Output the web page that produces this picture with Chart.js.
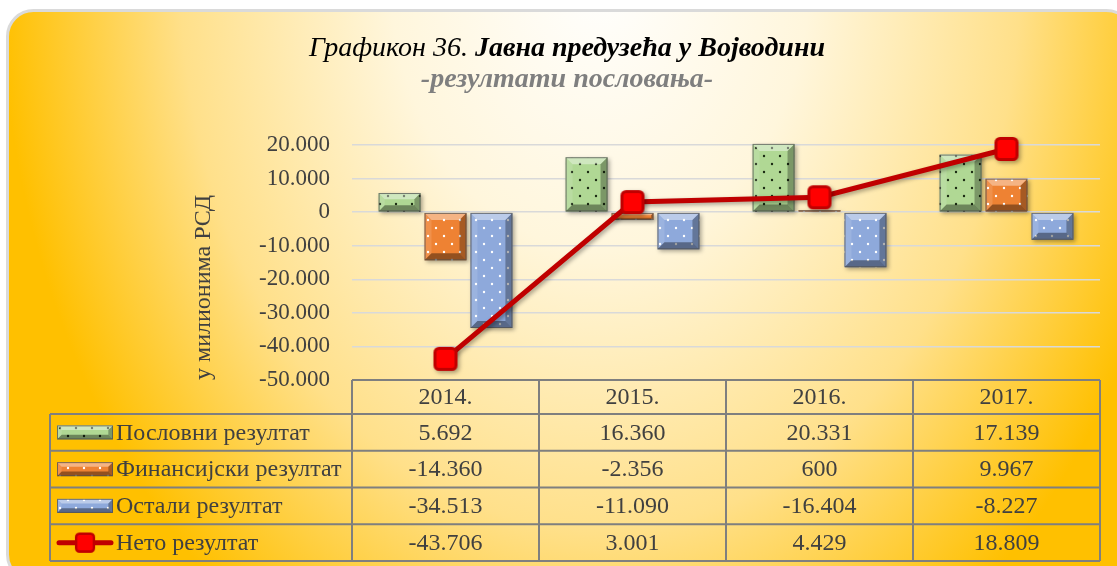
<!DOCTYPE html>
<html>
<head>
<meta charset="utf-8">
<script src="https://cdn.jsdelivr.net/npm/chart.js@4.4.1/dist/chart.umd.min.js"></script>
<style>
  html, body { margin: 0; padding: 0; background: #fff; }
</style>
</head>
<body>
<canvas id="chart" width="1117" height="566"></canvas>
<script>
const years = ['2014.', '2015.', '2016.', '2017.'];
const poslovni = [5692, 16360, 20331, 17139];
const finansijski = [-14360, -2356, 600, 9967];
const ostali = [-34513, -11090, -16404, -8227];
const neto = [-43706, 3001, 4429, 18809];
const seriesNames = ['Пословни резултат', 'Финансијски резултат', 'Остали резултат', 'Нето резултат'];

const titleLead = 'Графикон 36. ';
const titleBold = 'Јавна предузећа у Војводини';
const subTitle = '-резултати пословања-';
const yTitle = 'у милионима РСД';

const SERIF = '"Liberation Serif", "Times New Roman", serif';
const TEXT = '#404040';

// 5692 -> "5.692", -14360 -> "-14.360"
function fmt(v) {
  const s = String(Math.abs(Math.round(v))).replace(/\B(?=(\d{3})+(?!\d))/g, '.');
  return (v < 0 ? '-' : '') + s;
}

function dotPattern(base, dot) {
  const p = document.createElement('canvas');
  p.width = 16; p.height = 16;
  const g = p.getContext('2d');
  g.fillStyle = base;
  g.fillRect(0, 0, 16, 16);
  g.fillStyle = dot;
  [[4, 4], [12, 12]].forEach(([x, y]) => {
    g.beginPath(); g.arc(x, y, 1.2, 0, Math.PI * 2); g.fill();
  });
  return g.createPattern(p, 'repeat');
}

const ctx = document.getElementById('chart').getContext('2d');
const fills = [
  dotPattern('#B0D894', '#1b2a12'),
  dotPattern('#EE8233', '#ffffff'),
  dotPattern('#8EA9DB', '#ffffff')
];

// red rounded square marker
const marker = document.createElement('canvas');
marker.width = 26; marker.height = 26;
(function () {
  const g = marker.getContext('2d');
  g.beginPath();
  g.roundRect(2.5, 2.5, 21, 21, 4);
  g.fillStyle = '#FF0000';
  g.fill();
  g.lineWidth = 3;
  g.strokeStyle = '#C00000';
  g.stroke();
})();

// raised-tile look on top of a filled rectangle
function bevel(c, l, t, r, b) {
  const w = r - l, h = b - t;
  const s = Math.max(0, Math.min(7, w / 3, h / 3));
  const faces = [
    [[l, t], [r, t], [r - s, t + s], [l + s, t + s], 'rgba(255,255,255,0.40)'],
    [[l, t], [l + s, t + s], [l + s, b - s], [l, b], 'rgba(255,255,255,0.12)'],
    [[r, t], [r, b], [r - s, b - s], [r - s, t + s], 'rgba(0,0,0,0.30)'],
    [[l, b], [l + s, b - s], [r - s, b - s], [r, b], 'rgba(0,0,0,0.38)']
  ];
  c.save();
  faces.forEach(f => {
    c.beginPath();
    c.moveTo(f[0][0], f[0][1]);
    for (let i = 1; i < 4; i++) c.lineTo(f[i][0], f[i][1]);
    c.closePath();
    c.fillStyle = f[4];
    c.fill();
  });
  c.lineWidth = 1;
  c.strokeStyle = 'rgba(80,80,80,0.75)';
  c.strokeRect(l + 0.5, t + 0.5, w - 1, h - 1);
  c.restore();
}

const backdrop = {
  id: 'backdrop',
  beforeDraw(chart) {
    const c = chart.ctx;
    c.save();
    c.fillStyle = '#fff';
    c.fillRect(0, 0, chart.width, chart.height);
    c.beginPath();
    c.roundRect(7.5, 10.5, 1125, 570, 26);
    c.fillStyle = '#FFC000';
    c.fill();
    c.save();
    c.clip();
    c.translate(600, -30);
    c.scale(1, 800 / 600);
    const g = c.createRadialGradient(0, 0, 0, 0, 0, 600);
    g.addColorStop(0, '#FFFFFF');
    g.addColorStop(0.35, '#FFF6DC');
    g.addColorStop(0.7, '#FFE08A');
    g.addColorStop(1, 'rgba(255,192,0,1)');
    c.fillStyle = g;
    c.fillRect(-700, -50, 1500, 600);
    c.restore();
    c.lineWidth = 3;
    c.strokeStyle = '#DADADA';
    c.stroke();

    // title
    c.textBaseline = 'alphabetic';
    c.textAlign = 'left';
    c.font = 'italic 28px ' + SERIF;
    const w1 = c.measureText(titleLead).width;
    c.font = 'italic bold 28px ' + SERIF;
    const w2 = c.measureText(titleBold).width;
    const cx = 567;
    let x = cx - (w1 + w2) / 2;
    c.fillStyle = '#000';
    c.font = 'italic 28px ' + SERIF;
    c.fillText(titleLead, x, 56);
    c.font = 'italic bold 28px ' + SERIF;
    c.fillText(titleBold, x + w1, 56);
    c.textAlign = 'center';
    c.fillStyle = '#7F7F7F';
    c.fillText(subTitle, cx, 87);
    c.restore();
  }
};

const tileEffects = {
  id: 'tileEffects',
  beforeDatasetDraw(chart, args) {
    const c = chart.ctx;
    c.save();
    c.shadowColor = 'rgba(0,0,0,0.35)';
    c.shadowOffsetX = 2;
    c.shadowOffsetY = 2;
    c.shadowBlur = 4;
  },
  afterDatasetDraw(chart, args) {
    const c = chart.ctx;
    c.restore();
    if (args.meta.type !== 'bar') return;
    args.meta.data.forEach(el => {
      const p = el.getProps(['x', 'y', 'base', 'width'], true);
      const l = p.x - p.width / 2, r = p.x + p.width / 2;
      const t = Math.min(p.y, p.base), b = Math.max(p.y, p.base);
      bevel(c, l, t, r, b);
    });
  }
};

const dataTable = {
  id: 'dataTable',
  afterDraw(chart) {
    const c = chart.ctx;
    const area = chart.chartArea;
    const colW = (area.right - area.left) / years.length;
    const tableLeft = 50;
    const headTop = area.bottom;
    const headH = 34;
    const rowH = 36.75;
    const bodyTop = headTop + headH;
    const bodyBottom = bodyTop + rowH * 4;

    c.save();
    c.strokeStyle = '#7F7F7F';
    c.lineWidth = 2;
    c.beginPath();
    c.moveTo(area.left, headTop); c.lineTo(area.right, headTop);
    for (let r = 0; r <= 4; r++) {
      c.moveTo(tableLeft, bodyTop + r * rowH); c.lineTo(area.right, bodyTop + r * rowH);
    }
    c.moveTo(tableLeft, bodyTop); c.lineTo(tableLeft, bodyBottom);
    for (let i = 0; i <= years.length; i++) {
      const x = area.left + i * colW;
      c.moveTo(x, headTop); c.lineTo(x, bodyBottom);
    }
    c.stroke();

    c.fillStyle = TEXT;
    c.font = '24px ' + SERIF;
    c.textBaseline = 'middle';
    c.textAlign = 'center';
    years.forEach((y, i) => {
      c.fillText(y, chart.scales.x.getPixelForValue(i), headTop + headH / 2 + 1);
    });

    chart.data.datasets.forEach((ds, r) => {
      const cy = bodyTop + r * rowH + rowH / 2;
      // legend key
      if (ds.type === 'line') {
        c.save();
        c.strokeStyle = '#C00000';
        c.lineWidth = 5;
        c.lineCap = 'round';
        c.beginPath(); c.moveTo(59, cy); c.lineTo(111, cy); c.stroke();
        c.drawImage(marker, 85 - 11, cy - 11, 22, 22);
        c.restore();
      } else {
        c.fillStyle = ds.backgroundColor;
        c.fillRect(57, cy - 7, 56, 14);
        bevel(c, 57, cy - 7, 113, cy + 7);
      }
      c.fillStyle = TEXT;
      c.textAlign = 'left';
      c.fillText(ds.label, 116, cy + 1);
      c.textAlign = 'center';
      ds.data.forEach((v, i) => {
        c.fillText(fmt(v), chart.scales.x.getPixelForValue(i), cy + 1);
      });
    });
    c.restore();
  }
};

const barCommon = {
  type: 'bar',
  borderWidth: 0,
  categoryPercentage: 0.737,
  barPercentage: 0.913,
  order: 1,
  clip: false
};

new Chart(ctx, {
  type: 'bar',
  data: {
    labels: years,
    datasets: [
      Object.assign({ label: seriesNames[0], data: poslovni, backgroundColor: fills[0] }, barCommon),
      Object.assign({ label: seriesNames[1], data: finansijski, backgroundColor: fills[1] }, barCommon),
      Object.assign({ label: seriesNames[2], data: ostali, backgroundColor: fills[2] }, barCommon),
      {
        type: 'line',
        label: seriesNames[3],
        data: neto,
        borderColor: '#C00000',
        borderWidth: 5,
        pointStyle: marker,
        pointRadius: 12,
        pointHoverRadius: 12,
        tension: 0,
        order: 0,
        clip: false
      }
    ]
  },
  options: {
    responsive: false,
    animation: false,
    devicePixelRatio: 1,
    layout: { padding: { left: 189, right: 16, top: 145, bottom: 186 } },
    plugins: {
      legend: { display: false },
      tooltip: { enabled: false }
    },
    scales: {
      x: { display: false, offset: true },
      y: {
        min: -50000,
        max: 20000,
        afterFit(scale) { scale.width = 163; },
        border: { display: false },
        grid: { color: '#D9D9D9', lineWidth: 1.5, drawTicks: false },
        ticks: {
          stepSize: 10000,
          padding: 22,
          color: TEXT,
          font: { family: SERIF, size: 23 },
          callback: v => fmt(v)
        },
        title: {
          display: true,
          text: yTitle,
          align: 'start',
          color: TEXT,
          padding: { top: 0, bottom: 0 },
          font: { family: SERIF, size: 24 }
        }
      }
    }
  },
  plugins: [backdrop, tileEffects, dataTable]
});
</script>
</body>
</html>
